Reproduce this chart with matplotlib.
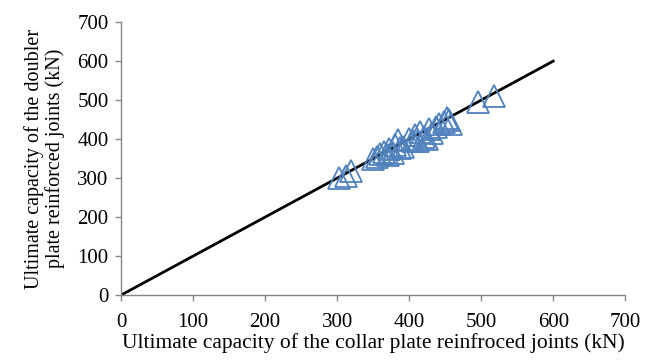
import matplotlib
matplotlib.use("Agg")
import matplotlib.pyplot as plt

plt.rcParams['font.family'] = ['Liberation Serif', 'DejaVu Serif']

# Ultimate capacities (kN)
collar_kN = [303, 312, 320,
             350, 355, 360, 365, 370, 372, 378, 380, 385, 388, 392,
             400, 405, 408, 412, 415, 420, 425, 428, 432, 438, 442, 448, 452, 455, 458,
             496, 518]
doubler_kN = [300, 305, 318,
              350, 355, 362, 368, 360, 375, 365, 385, 398, 378, 380,
              400, 395, 410, 395, 418, 405, 400, 425, 415, 430, 440, 445, 455, 450, 440,
              495, 511]
ref_line = [0, 600]
ticks = [0, 100, 200, 300, 400, 500, 600, 700]

fig = plt.figure(figsize=(6.54, 3.63), dpi=100)
ax = fig.add_axes([0.185, 0.187, 0.771, 0.752])

ax.plot(ref_line, ref_line, color='black', lw=2.0, zorder=2)
ax.plot(collar_kN, doubler_kN, ls='none', marker='^', ms=16,
        mfc='none', mec='#4F81BD', mew=1.3, zorder=3)

ax.set_xlim(0, 700)
ax.set_ylim(0, 700)
ax.set_xticks(ticks)
ax.set_yticks(ticks)
ax.tick_params(labelsize=15, colors='#868686', labelcolor='black',
               length=4, width=1, direction='out')
ax.tick_params(axis='x', pad=9)
ax.tick_params(axis='y', pad=5)
for side in ('top', 'right'):
    ax.spines[side].set_visible(False)
for side in ('left', 'bottom'):
    ax.spines[side].set_color('#868686')
    ax.spines[side].set_linewidth(1)

ax.set_xlabel('Ultimate capacity of the collar plate reinfroced joints (kN)',
              fontsize=15.5, labelpad=1)
ax.set_ylabel('Ultimate capacity of the doubler\nplate reinforced joints (kN)',
              fontsize=14.5, labelpad=9, linespacing=1.05)

fig.savefig('out.png', dpi=100)
